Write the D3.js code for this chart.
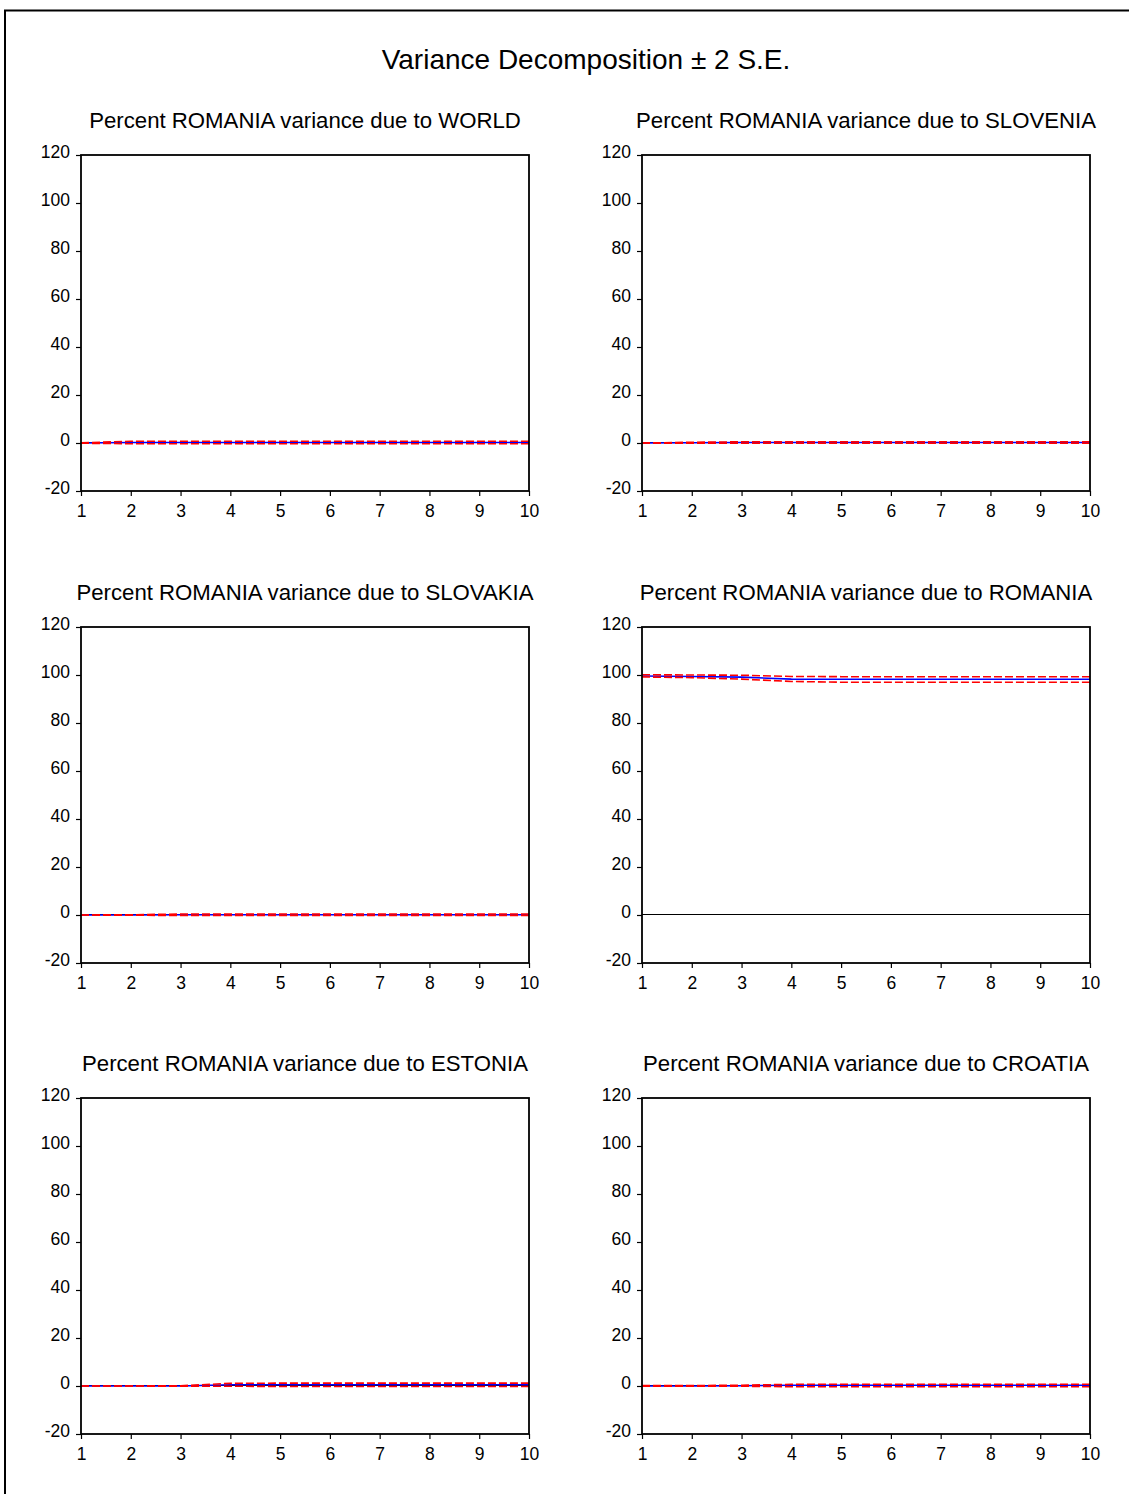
<!DOCTYPE html>
<html>
<head>
<meta charset="utf-8">
<script src="https://cdn.jsdelivr.net/npm/d3@7"></script>
<style>
  html, body { margin: 0; padding: 0; background: #fff; }
  svg { display: block; }
  text { font-family: "Liberation Sans", Arial, sans-serif; fill: #000; }
</style>
</head>
<body>
<svg id="chart" width="1129" height="1494"></svg>
<script>
// Forecast horizons (periods)
const periods = [1, 2, 3, 4, 5, 6, 7, 8, 9, 10];
const yTicks = [-20, 0, 20, 40, 60, 80, 100, 120];

// Shock sources, in panel order (row by row)
const shocks = ["WORLD", "SLOVENIA", "SLOVAKIA", "ROMANIA", "ESTONIA", "CROATIA"];

// Percent of ROMANIA forecast-error variance explained by each shock
const worldMean    = [0.0, 0.2, 0.2, 0.2, 0.2, 0.2, 0.2, 0.2, 0.2, 0.2];
const worldUpper   = [0.1, 0.7, 0.7, 0.7, 0.7, 0.7, 0.7, 0.7, 0.7, 0.7];
const worldLower   = [-0.1, -0.3, -0.3, -0.3, -0.3, -0.3, -0.3, -0.3, -0.3, -0.3];

const sloveniaMean  = [0.0, 0.1, 0.2, 0.2, 0.2, 0.2, 0.2, 0.2, 0.2, 0.2];
const sloveniaUpper = [0.0, 0.3, 0.5, 0.5, 0.5, 0.5, 0.5, 0.5, 0.5, 0.5];
const sloveniaLower = [0.0, -0.1, -0.1, -0.1, -0.1, -0.1, -0.1, -0.1, -0.1, -0.1];

const slovakiaMean  = [0.0, 0.0, 0.1, 0.1, 0.1, 0.1, 0.1, 0.1, 0.1, 0.1];
const slovakiaUpper = [0.0, 0.1, 0.4, 0.4, 0.4, 0.4, 0.4, 0.4, 0.4, 0.4];
const slovakiaLower = [0.0, -0.1, -0.2, -0.2, -0.2, -0.2, -0.2, -0.2, -0.2, -0.2];

const romaniaMean  = [99.6, 99.4, 99.1, 98.3, 98.2, 98.2, 98.2, 98.2, 98.2, 98.2];
const romaniaUpper = [100.1, 100.0, 99.9, 99.4, 99.3, 99.3, 99.3, 99.3, 99.3, 99.3];
const romaniaLower = [99.2, 98.9, 98.3, 97.3, 97.0, 97.0, 97.0, 97.0, 97.0, 97.0];

const estoniaMean  = [0.0, 0.0, 0.0, 0.5, 0.5, 0.5, 0.5, 0.5, 0.5, 0.5];
const estoniaUpper = [0.0, 0.0, 0.1, 1.1, 1.2, 1.2, 1.2, 1.2, 1.2, 1.2];
const estoniaLower = [0.0, 0.0, -0.1, -0.1, -0.2, -0.2, -0.2, -0.2, -0.2, -0.2];

const croatiaMean  = [0.0, 0.0, 0.1, 0.3, 0.3, 0.3, 0.3, 0.3, 0.3, 0.3];
const croatiaUpper = [0.2, 0.2, 0.3, 0.7, 0.7, 0.7, 0.7, 0.7, 0.7, 0.7];
const croatiaLower = [-0.1, -0.1, -0.1, -0.3, -0.3, -0.3, -0.3, -0.3, -0.3, -0.3];

const meanSeries  = [worldMean, sloveniaMean, slovakiaMean, romaniaMean, estoniaMean, croatiaMean];
const upperSeries = [worldUpper, sloveniaUpper, slovakiaUpper, romaniaUpper, estoniaUpper, croatiaUpper];
const lowerSeries = [worldLower, sloveniaLower, slovakiaLower, romaniaLower, estoniaLower, croatiaLower];

const svg = d3.select("#chart");

// outer frame (runs past the right and bottom edges)
svg.append("rect")
  .attr("x", 5).attr("y", 10.5)
  .attr("width", 1400).attr("height", 1800)
  .attr("fill", "none").attr("stroke", "#000").attr("stroke-width", 2);

svg.append("text")
  .attr("x", 586).attr("y", 69)
  .attr("text-anchor", "middle")
  .style("font-size", "28px")
  .text("Variance Decomposition \u00b1 2 S.E.");

const colLeft = [81, 642];
const rowTop = [155, 627, 1098];
const plotW = 448, plotH = 336;

const x = d3.scaleLinear().domain([1, 10]).range([0, plotW]);
const y = d3.scaleLinear().domain([-20, 120]).range([plotH, 0]);

const line = d3.line().x((d, i) => x(periods[i])).y(d => y(d));
const plain = d => String(d).replace("\u2212", "-");

shocks.forEach((shock, k) => {
  const g = svg.append("g")
    .attr("transform", `translate(${colLeft[k % 2]},${rowTop[Math.floor(k / 2)]})`);

  g.append("text")
    .attr("x", plotW / 2).attr("y", -27)
    .attr("text-anchor", "middle")
    .style("font-size", "22.2px")
    .text(`Percent ROMANIA variance due to ${shock}`);

  // zero reference line
  g.append("line")
    .attr("x1", 0).attr("x2", plotW)
    .attr("y1", Math.round(y(0)) - 0.5).attr("y2", Math.round(y(0)) - 0.5)
    .attr("stroke", "#000").attr("stroke-width", 1);

  g.append("path")
    .attr("d", line(meanSeries[k]))
    .attr("fill", "none").attr("stroke", "#0000ff").attr("stroke-width", 1.6);

  [upperSeries[k], lowerSeries[k]].forEach(s => {
    g.append("path")
      .attr("d", line(s))
      .attr("fill", "none").attr("stroke", "#ff0000").attr("stroke-width", 1.6)
      .attr("stroke-dasharray", "8,3");
  });

  // frame
  g.append("rect")
    .attr("x", 0).attr("y", 0).attr("width", plotW).attr("height", plotH)
    .attr("fill", "none").attr("stroke", "#000").attr("stroke-width", 1.8);

  const yAxis = g.append("g")
    .call(d3.axisLeft(y).tickValues(yTicks).tickSize(5).tickPadding(6).tickFormat(plain));
  const xAxis = g.append("g")
    .attr("transform", `translate(0,${plotH})`)
    .call(d3.axisBottom(x).tickValues(periods).tickSize(5).tickPadding(9).tickFormat(plain));

  [yAxis, xAxis].forEach(a => {
    a.attr("font-size", null).attr("font-family", null);
    a.select(".domain").remove();
    a.selectAll(".tick line").attr("stroke", "#000").attr("stroke-width", 1.2);
    a.selectAll(".tick text")
      .style("font-size", "17.5px")
      .attr("fill", "#000");
  });
  yAxis.selectAll(".tick text").attr("dy", "0.15em");
});
</script>
</body>
</html>
